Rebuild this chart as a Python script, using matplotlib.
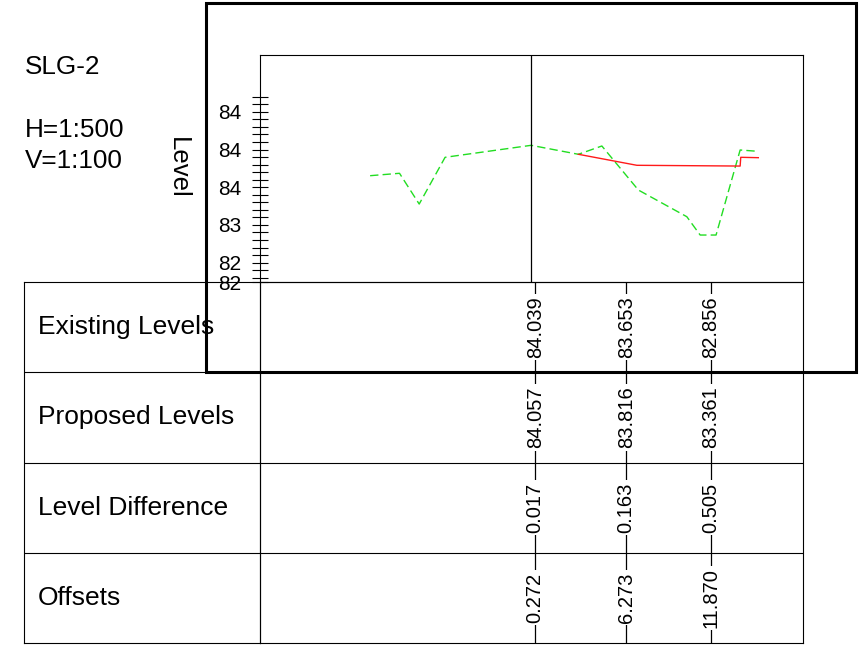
import numpy as np
import matplotlib
matplotlib.use("Agg")
import matplotlib.pyplot as plt
from matplotlib.patches import Rectangle

plt.rcParams["font.family"] = ["Liberation Sans", "DejaVu Sans"]

W, H = 860, 653

# ---------------------------------------------------------
# Data
# ---------------------------------------------------------
section_name = "SLG-2"
scale_lines = ["H=1:500", "V=1:100"]

# existing ground (green dashed) - chainage (m) / level (m)
existing_ch = [-10.63, -8.69, -7.39, -5.68, 0.0, 3.12, 4.67, 7.08, 10.28, 11.16, 12.21, 13.80, 15.00]
existing_lv = [83.653, 83.685, 83.277, 83.897, 84.056, 83.937, 84.047, 83.463, 83.109, 82.866, 82.866, 83.994, 83.976]

# proposed profile (red)
proposed_ch = [3.12, 6.98, 13.80, 13.84, 15.00]
proposed_lv = [83.937, 83.791, 83.781, 83.897, 83.892]

# y axis ruler
ytick_pos = [82.243, 82.5, 83.0, 83.5, 84.0, 84.5]
ytick_labels = ["82", "82", "83", "84", "84", "84"]
yminor_pos = [82.3, 82.4, 82.5, 82.6, 82.7, 82.8, 82.9, 83.0, 83.1, 83.2, 83.3, 83.4,
              83.5, 83.6, 83.7, 83.8, 83.9, 84.0, 84.1, 84.2, 84.3, 84.4, 84.5, 84.6, 84.7]

# table below the section
row_names = ["Existing Levels", "Proposed Levels", "Level Difference", "Offsets"]
offsets = [0.272, 6.273, 11.870]
existing_levels = ["84.039", "83.653", "82.856"]
proposed_levels = ["84.057", "83.816", "83.361"]
level_diff = ["0.017", "0.163", "0.505"]
offset_labels = ["0.272", "6.273", "11.870"]
row_values = [existing_levels, proposed_levels, level_diff, offset_labels]


def rect(l, t, r, b):
    # pixel box -> figure fraction [left, bottom, width, height]
    return [l / W, 1 - b / H, (r - l) / W, (b - t) / H]


fig = plt.figure(figsize=(W / 100, H / 100), dpi=100)

# ---------------------------------------------------------
# Table (added first so the section's tick labels sit on top)
# ---------------------------------------------------------
lab = fig.add_axes(rect(24, 282, 260, 643))
tab = fig.add_axes(rect(260, 282, 803, 643))
for a in (lab, tab):
    a.set_ylim(0, 4)
    a.set_xticks([])
    a.set_yticks([])
    a.patch.set_visible(False)
    for y in (1, 2, 3):
        a.axhline(y, color="black", lw=0.8)
    for sp in a.spines.values():
        sp.set_linewidth(0.8)
lab.set_xlim(0, 1)

# ---------------------------------------------------------
# Section plot
# ---------------------------------------------------------
ax = fig.add_axes(rect(260, 55, 803, 282))
ax.patch.set_visible(False)
ax.plot(existing_ch, existing_lv, color="#22dd22", lw=1.0, dashes=(6, 3))
ax.plot(proposed_ch, proposed_lv, color="#ff1a1a", lw=1.0)
ax.axvline(0.0, color="black", lw=0.9)

ax.set_xlim(-17.9, 17.95)
ax.set_ylim(82.243, 85.254)
ax.set_xticks([])
ax.set_yticks(ytick_pos)
ax.set_yticklabels(ytick_labels)
ax.set_yticks(yminor_pos, minor=True)
ax.tick_params(axis="y", which="both", direction="inout", length=11.5, width=0.8,
               color="black", labelsize=15, pad=7.5)
for sp in ax.spines.values():
    sp.set_linewidth(0.8)
tab.set_xlim(ax.get_xlim())

fig.text(178 / W, 1 - 168 / H, "Level", rotation=270, fontsize=18.5,
         ha="center", va="center")

fig.text(25 / W, 1 - 74 / H, section_name, fontsize=18.8, va="baseline")
fig.text(25 / W, 1 - 137 / H, scale_lines[0], fontsize=18.8, va="baseline")
fig.text(25 / W, 1 - 168 / H, scale_lines[1], fontsize=18.8, va="baseline")

for i, name in enumerate(row_names):
    yc = 3.5 - i
    lab.text(14 / 236, yc, name, fontsize=19, ha="left", va="center")

for x in offsets:
    tab.vlines(x, 0, 4, color="black", lw=0.9)
for i, vals in enumerate(row_values):
    yc = 3.5 - i
    for x, v in zip(offsets, vals):
        tab.text(x, yc, v, rotation=90, fontsize=14.5, ha="center", va="center",
                 bbox=dict(boxstyle="square,pad=0.12", fc="white", ec="none"))

# thick frame around the section sheet
fig.add_artist(Rectangle((206 / W, 1 - 372 / H), 650 / W, 369 / H,
                         transform=fig.transFigure, fill=False,
                         ec="black", lw=2.2, zorder=10))

fig.savefig("out.png", dpi=100)
